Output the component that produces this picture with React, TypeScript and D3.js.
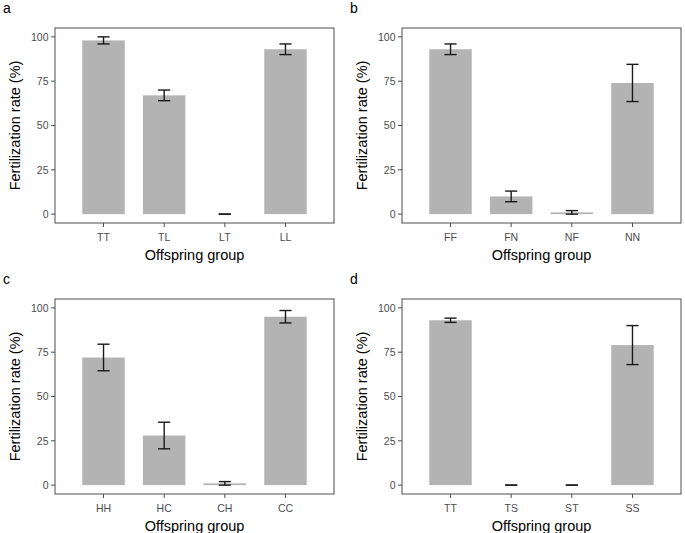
import * as d3 from "d3";

// panel a
const groupsA = ["TT", "TL", "LT", "LL"];
const meanA = [98, 67, 0, 93];
const seA = [2, 3, 0, 3];
// panel b
const groupsB = ["FF", "FN", "NF", "NN"];
const meanB = [93, 10, 1, 74];
const seB = [3, 3, 1, 10.5];
// panel c
const groupsC = ["HH", "HC", "CH", "CC"];
const meanC = [72, 28, 1, 95];
const seC = [7.5, 7.5, 1, 3.5];
// panel d
const groupsD = ["TT", "TS", "ST", "SS"];
const meanD = [93, 0, 0, 79];
const seD = [1.2, 0, 0, 11];

const yTicks = [0, 25, 50, 75, 100];

const panels = [
  { tag: "a", groups: groupsA, mean: meanA, se: seA, ox: 0, oy: 0 },
  { tag: "b", groups: groupsB, mean: meanB, se: seB, ox: 347, oy: 0 },
  { tag: "c", groups: groupsC, mean: meanC, se: seC, ox: 0, oy: 271 },
  { tag: "d", groups: groupsD, mean: meanD, se: seD, ox: 347, oy: 271 },
];

const font = "'Liberation Sans', Arial, sans-serif";

const Panel = ({ p }: { p: (typeof panels)[number] }) => {
  let left = 55,
    top = 28,
    w = 279,
    h = 195;

  let xScale = d3
    .scaleBand()
    .domain(p.groups)
    .range([0, w])
    .paddingInner(0.3)
    .paddingOuter(0.45);

  let yScale = d3.scaleLinear().domain([-5, 105]).range([h, 0]);

  let capW = xScale.bandwidth() * (0.2 / 0.7);

  return (
    <g transform={`translate(${p.ox}, ${p.oy})`}>
      <text x={3} y={12.5} fontSize={14} fill="#000">
        {p.tag}
      </text>
      <g transform={`translate(${left}, ${top})`}>
        {p.groups.map((g, i) => (
          <rect
            key={g}
            x={xScale(g)}
            y={yScale(p.mean[i])}
            width={xScale.bandwidth()}
            height={yScale(0) - yScale(p.mean[i])}
            fill="#B3B3B3"
          />
        ))}
        {p.groups.map((g, i) => {
          let cx = xScale(g)! + xScale.bandwidth() / 2;
          let lo = yScale(Math.max(0, p.mean[i] - p.se[i]));
          let hi = yScale(p.mean[i] + p.se[i]);
          return (
            <g key={g} stroke="#1a1a1a" strokeWidth={1.4} fill="none">
              <line x1={cx} x2={cx} y1={lo} y2={hi} />
              <line x1={cx - capW / 2} x2={cx + capW / 2} y1={lo} y2={lo} />
              <line x1={cx - capW / 2} x2={cx + capW / 2} y1={hi} y2={hi} />
            </g>
          );
        })}
        <rect
          x={0}
          y={0}
          width={w}
          height={h}
          fill="none"
          stroke="#4d4d4d"
          strokeWidth={1}
        />
        {yTicks.map((t) => (
          <g key={t} transform={`translate(0, ${yScale(t)})`}>
            <line x1={-4} x2={0} stroke="#4d4d4d" />
            <text
              x={-6.5}
              dy="0.35em"
              textAnchor="end"
              fontSize={10.5}
              fill="#4d4d4d"
            >
              {t}
            </text>
          </g>
        ))}
        {p.groups.map((g) => {
          let cx = xScale(g)! + xScale.bandwidth() / 2;
          return (
            <g key={g} transform={`translate(${cx}, ${h})`}>
              <line y1={0} y2={4} stroke="#4d4d4d" />
              <text y={14.5} dy="0.35em" textAnchor="middle" fontSize={10.5} fill="#4d4d4d">
                {g}
              </text>
            </g>
          );
        })}
        <text
          x={w / 2}
          y={h + 32}
          dy="0.35em"
          textAnchor="middle"
          fontSize={14.5}
          fill="#000"
        >
          Offspring group
        </text>
        <text
          transform={`translate(${-40}, ${h / 2}) rotate(-90)`}
          textAnchor="middle"
          dy="0.35em"
          fontSize={14.5}
          fill="#000"
        >
          Fertilization rate (%)
        </text>
      </g>
    </g>
  );
}

export default function App() {
  return (
    <svg
      width={685}
      height={533}
      style={{ position: "absolute", left: 0, top: 0, background: "#fff" }}
      fontFamily={font}
    >
      {panels.map((p) => (
        <Panel key={p.tag} p={p} />
      ))}
    </svg>
  );
}
